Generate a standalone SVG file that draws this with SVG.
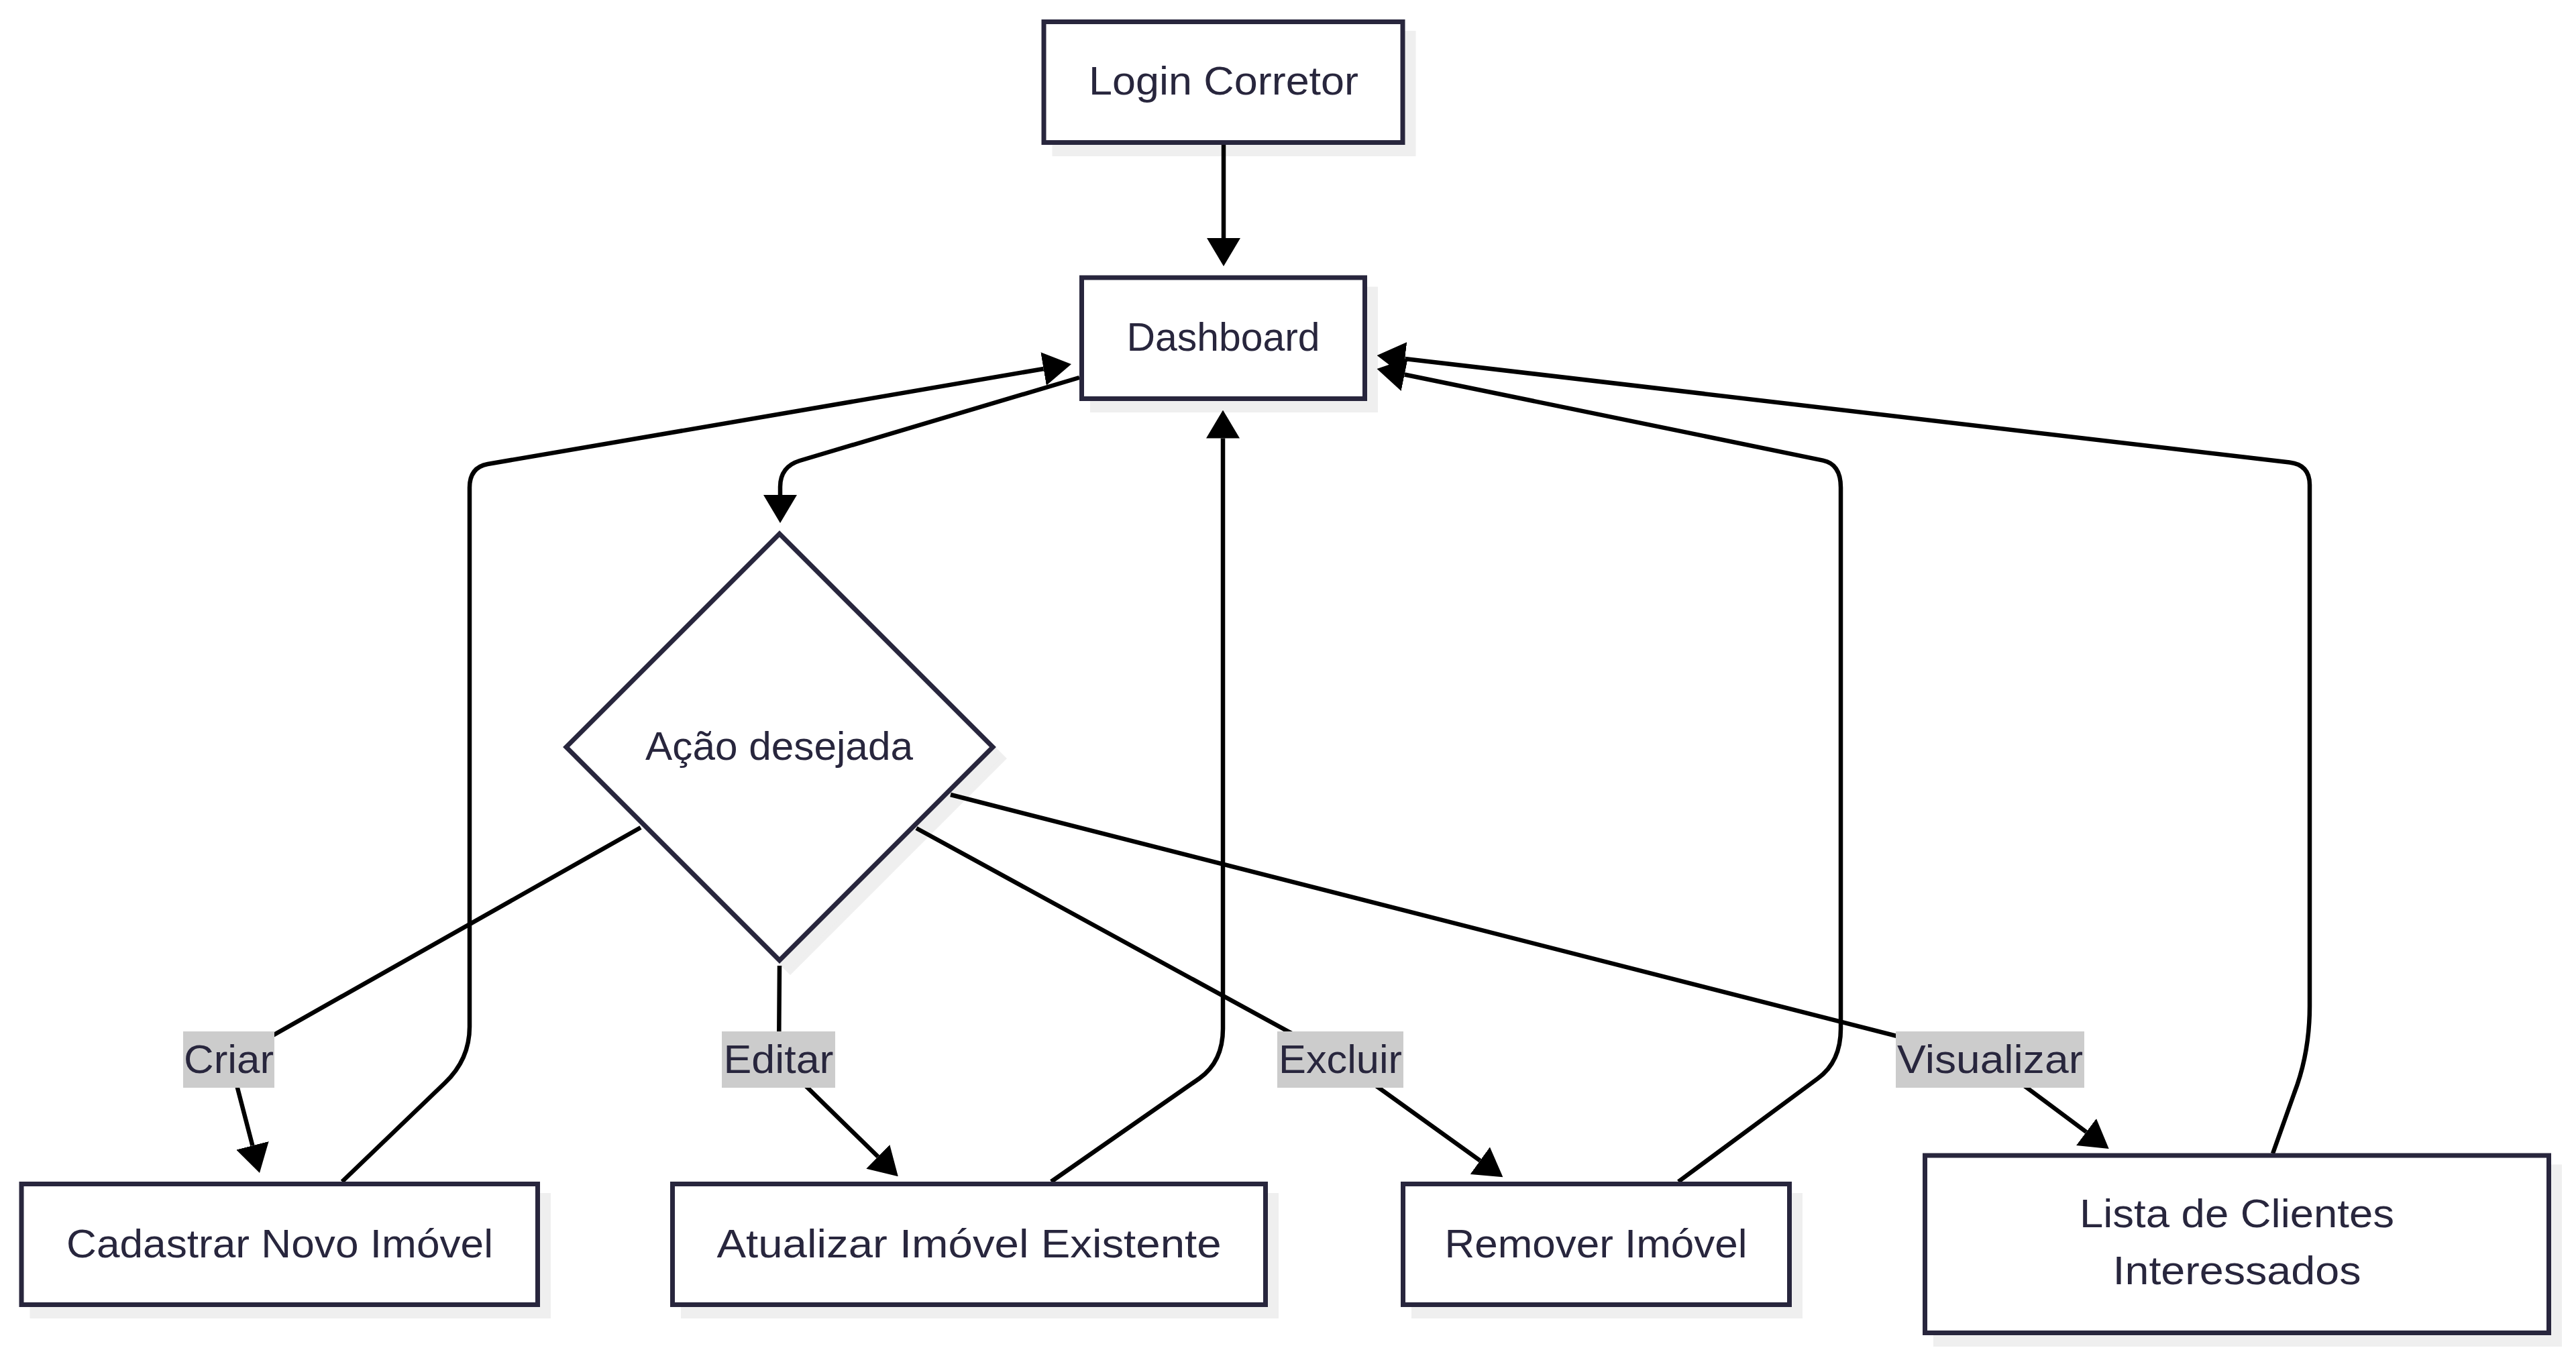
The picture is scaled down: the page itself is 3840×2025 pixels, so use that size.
<svg xmlns="http://www.w3.org/2000/svg" width="3840" height="2025" viewBox="0 0 3840 2025">
<style>
.bg{fill:#ffffff}
.shadow{fill:#efefef;stroke:#efefef;stroke-width:7}
.node{fill:#ffffff;stroke:#28263d;stroke-width:7}
.edge{fill:none;stroke:#000000;stroke-width:6.5;stroke-linejoin:round}
.lbl{fill:#cccccc}
text{font-family:"Liberation Sans",Arial,sans-serif;font-size:60px;fill:#28263d;text-anchor:middle}
</style>
<defs>
<marker id="arrow" viewBox="0 0 42 50" refX="0" refY="25" markerWidth="42" markerHeight="50" markerUnits="userSpaceOnUse" orient="auto">
<path d="M0,0 L42,25 L0,50 z" fill="#000000"/>
</marker>
</defs>
<rect class="bg" x="0" y="0" width="3840" height="2025"/>
<g id="shadows" transform="translate(16,17)">
<rect class="shadow" x="1556" y="32.5" width="535" height="180"/>
<rect class="shadow" x="1612.5" y="414" width="422" height="180.5"/>
<polygon class="shadow" points="1162,796 1480,1114 1162,1432 844,1114"/>
<rect class="shadow" x="32" y="1765.5" width="769.5" height="180"/>
<rect class="shadow" x="1002.5" y="1765.5" width="884" height="180"/>
<rect class="shadow" x="2091.5" y="1765.5" width="576" height="180"/>
<rect class="shadow" x="2869.5" y="1723" width="930" height="264.5"/>
</g>
<g id="connectors">
<path class="edge" marker-end="url(#arrow)" d="M1824,216 L1824,355"/>
<path class="edge" marker-end="url(#arrow)" d="M1609,563 L1192,687 Q1163,696 1163,726 L1163,738"/>
<path class="edge" marker-end="url(#arrow)" d="M955,1234 L343,1580 L376.4,1708.3"/>
<path class="edge" marker-end="url(#arrow)" d="M1162,1440 L1161,1580 L1308.8,1724.8"/>
<path class="edge" marker-end="url(#arrow)" d="M1366,1235 L1997,1580 L2206.3,1730.7"/>
<path class="edge" marker-end="url(#arrow)" d="M1417,1185 L2965,1580 L3110,1688"/>
<path class="edge" marker-end="url(#arrow)" d="M510,1762 L663,1615 Q700,1580 700,1531 L700,727 Q700,697 727,692 L1555.6,550"/>
<path class="edge" marker-end="url(#arrow)" d="M1567,1762 L1788,1608 Q1823,1583 1823,1534 L1823,653.5"/>
<path class="edge" marker-end="url(#arrow)" d="M2502,1762 L2710,1608 Q2744,1583 2744,1534 L2744,727 Q2744,692 2717.6,686.6 L2093.7,558.5"/>
<path class="edge" marker-end="url(#arrow)" d="M3388,1720 L3420,1630 Q3443,1570 3443,1500 L3443,723 Q3443,693 3413,689.5 L2094.3,534.9"/>
</g>
<g id="login">
<rect class="node" x="1556" y="32.5" width="535" height="180"/>
<text x="1824" y="141" textLength="402" lengthAdjust="spacingAndGlyphs">Login Corretor</text>
</g>
<g id="dashboard">
<rect class="node" x="1612.5" y="414" width="422" height="180.5"/>
<text x="1823.5" y="523" textLength="288" lengthAdjust="spacingAndGlyphs">Dashboard</text>
</g>
<g id="acao">
<polygon class="node" points="1162,796 1480,1114 1162,1432 844,1114"/>
<text x="1161.5" y="1133" textLength="399" lengthAdjust="spacingAndGlyphs">Ação desejada</text>
</g>
<g id="cadastrar">
<rect class="node" x="32" y="1765.5" width="769.5" height="180"/>
<text x="417" y="1875" textLength="636" lengthAdjust="spacingAndGlyphs">Cadastrar Novo Imóvel</text>
</g>
<g id="atualizar">
<rect class="node" x="1002.5" y="1765.5" width="884" height="180"/>
<text x="1444.5" y="1875" textLength="752" lengthAdjust="spacingAndGlyphs">Atualizar Imóvel Existente</text>
</g>
<g id="remover">
<rect class="node" x="2091.5" y="1765.5" width="576" height="180"/>
<text x="2379" y="1875" textLength="451" lengthAdjust="spacingAndGlyphs">Remover Imóvel</text>
</g>
<g id="lista">
<rect class="node" x="2869.5" y="1723" width="930" height="264.5"/>
<text x="3334.5" y="1829.5" textLength="469" lengthAdjust="spacingAndGlyphs">Lista de Clientes</text>
<text x="3334.5" y="1915" textLength="370" lengthAdjust="spacingAndGlyphs">Interessados</text>
</g>
<g id="edge-labels">
<g id="label-criar">
<rect class="lbl" x="273" y="1538" width="136" height="84"/>
<text x="341" y="1600" textLength="134" lengthAdjust="spacingAndGlyphs">Criar</text>
</g>
<g id="label-editar">
<rect class="lbl" x="1076" y="1538" width="169" height="84"/>
<text x="1160.5" y="1600" textLength="164" lengthAdjust="spacingAndGlyphs">Editar</text>
</g>
<g id="label-excluir">
<rect class="lbl" x="1904" y="1538" width="188" height="84"/>
<text x="1998" y="1600" textLength="184" lengthAdjust="spacingAndGlyphs">Excluir</text>
</g>
<g id="label-visualizar">
<rect class="lbl" x="2826" y="1538" width="281" height="84"/>
<text x="2966.5" y="1600" textLength="277" lengthAdjust="spacingAndGlyphs">Visualizar</text>
</g>
</g>
</svg>
